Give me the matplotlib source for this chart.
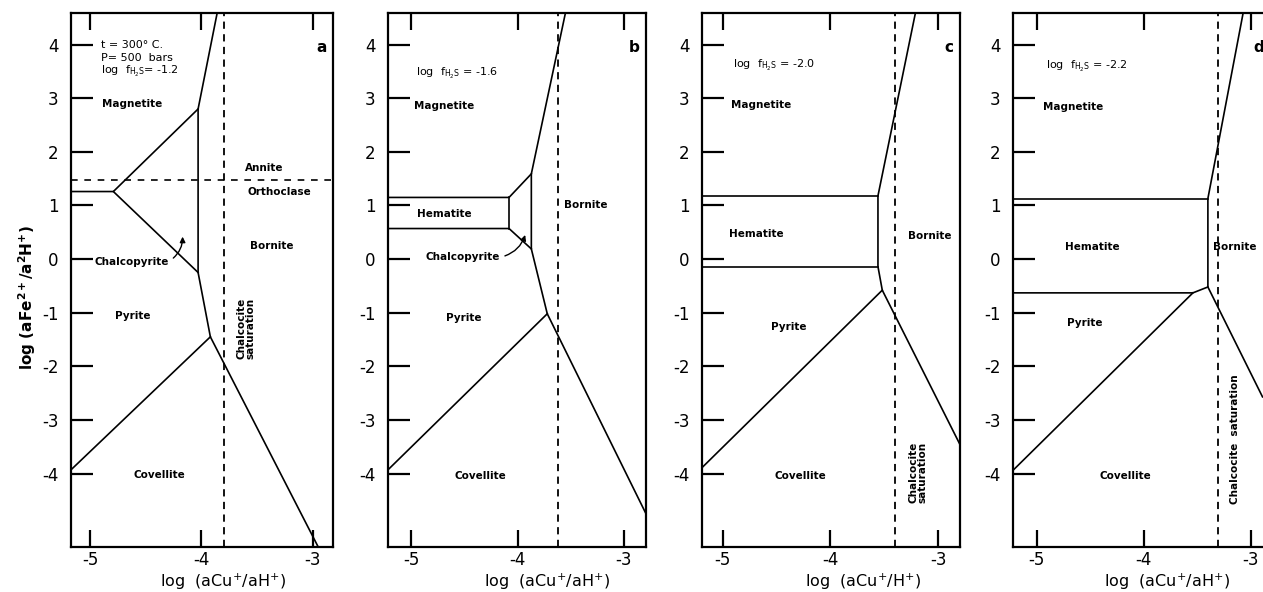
import matplotlib.pyplot as plt

plt.rcParams["font.family"] = "DejaVu Sans"
plt.rcParams["axes.unicode_minus"] = False
plt.rcParams["mathtext.default"] = "regular"

XTICKS = [-5, -4, -3]
YTICKS = [4, 3, 2, 1, 0, -1, -2, -3, -4]
YLIM = (-5.37, 4.59)

# panel a, log fH2S = -1.2
A_XLIM = (-5.17, -2.82)
A_LINES = [
    [(-3.86, 4.58), (-4.03, 2.80), (-4.03, -0.25), (-3.92, -1.45), (-2.95, -5.38)],
    [(-5.17, 1.26), (-4.79, 1.26), (-4.03, 2.80)],
    [(-4.79, 1.26), (-4.03, -0.25)],
    [(-5.17, -3.93), (-3.92, -1.45)],
]
A_CHALCOCITE = -3.80
A_ANNITE = 1.48
A_LABELS = [
    ("Magnetite", -4.62, 2.90),
    ("Annite", -3.44, 1.69),
    ("Orthoclase", -3.30, 1.26),
    ("Bornite", -3.37, 0.25),
    ("Pyrite", -4.62, -1.07),
    ("Covellite", -4.38, -4.02),
]
A_NOTES = [
    ("t = 300° C.", -4.90, 3.94),
    ("P= 500  bars", -4.90, 3.70),
    ("log  f$_{H_2S}$= -1.2", -4.90, 3.46),
]
A_ARROW = ((-4.63, -0.05), (-4.17, 0.47))
A_SAT = ("Chalcocite\nsaturation", -3.60, -1.30)

# panel b, log fH2S = -1.6
B_XLIM = (-5.22, -2.79)
B_LINES = [
    [(-3.55, 4.58), (-3.87, 1.59), (-3.87, 0.19), (-3.72, -1.02), (-2.79, -4.75)],
    [(-5.22, 1.15), (-4.08, 1.15), (-3.87, 1.59)],
    [(-5.22, 0.57), (-4.08, 0.57), (-3.87, 0.19)],
    [(-4.08, 1.15), (-4.08, 0.57)],
    [(-5.22, -3.93), (-3.72, -1.02)],
]
B_CHALCOCITE = -3.62
B_LABELS = [
    ("Magnetite", -4.69, 2.86),
    ("Hematite", -4.69, 0.85),
    ("Bornite", -3.36, 1.01),
    ("Pyrite", -4.51, -1.09),
    ("Covellite", -4.35, -4.04),
]
B_NOTES = [("log  f$_{H_2S}$ = -1.6", -4.96, 3.42)]
B_ARROW = ((-4.52, 0.03), (-3.92, 0.50))

# panel c, log fH2S = -2.0
C_XLIM = (-5.19, -2.80)
C_LINES = [
    [(-3.21, 4.62), (-3.56, 1.18), (-3.56, -0.14), (-3.52, -0.58), (-2.80, -3.46)],
    [(-5.19, 1.18), (-3.56, 1.18)],
    [(-5.19, -0.14), (-3.56, -0.14)],
    [(-5.19, -3.89), (-3.52, -0.58)],
]
C_CHALCOCITE = -3.40
C_LABELS = [
    ("Magnetite", -4.64, 2.88),
    ("Hematite", -4.69, 0.47),
    ("Bornite", -3.08, 0.43),
    ("Pyrite", -4.39, -1.26),
    ("Covellite", -4.28, -4.04),
]
C_NOTES = [("log  f$_{H_2S}$ = -2.0", -4.90, 3.57)]
C_SAT = ("Chalcocite\nsaturation", -3.19, -3.98)

# panel d, log fH2S = -2.2
D_XLIM = (-5.22, -2.82)
D_LINES = [
    [(-3.07, 4.60), (-3.40, 1.13), (-3.40, -0.52), (-2.89, -2.57)],
    [(-5.22, 1.13), (-3.40, 1.13)],
    [(-5.22, -0.63), (-3.54, -0.63), (-3.40, -0.52)],
    [(-5.22, -3.94), (-3.54, -0.63)],
]
D_CHALCOCITE = -3.31
D_LABELS = [
    ("Magnetite", -4.66, 2.83),
    ("Hematite", -4.48, 0.22),
    ("Bornite", -3.15, 0.22),
    ("Pyrite", -4.55, -1.20),
    ("Covellite", -4.17, -4.04),
]
D_NOTES = [("log  f$_{H_2S}$ = -2.2", -4.91, 3.55)]
D_SAT = ("Chalcocite  saturation", -3.15, -3.35)

XLABEL = "log  (aCu$^{+}$/aH$^{+}$)"
XLABEL_C = "log  (aCu$^{+}$/H$^{+}$)"
YLABEL = "log (aFe$^{2+}$/a$^{2}$H$^{+}$)"

W, H = 1263, 592
fig = plt.figure(figsize=(W / 100, H / 100), dpi=100, facecolor="white")


def panel(left_px, width_px, xlim, lines, sat_x, labels, notes, letter, xlabel, label_x):
    ax = fig.add_axes([left_px / W, 45 / H, width_px / W, 534 / H])
    ax.set_xlim(*xlim)
    ax.set_ylim(*YLIM)
    for sp in ax.spines.values():
        sp.set_linewidth(1.6)
    ax.set_xticks(XTICKS)
    ax.set_yticks(YTICKS)
    ax.set_xticklabels([str(v) for v in XTICKS])
    ax.set_yticklabels([str(v) for v in YTICKS])
    ax.tick_params(axis="x", direction="in", top=True, bottom=True, length=12,
                   width=1.6, labelsize=12, pad=3)
    ax.tick_params(axis="y", direction="in", left=True, right=False, length=16,
                   width=1.6, labelsize=12, pad=9)
    for pts in lines:
        ax.plot([p[0] for p in pts], [p[1] for p in pts], color="black", lw=1.2)
    ax.axvline(sat_x, color="black", lw=1.3, ls=(0, (4, 3)))
    for txt, x, y in labels:
        ax.text(x, y, txt, ha="center", va="center", fontsize=7.5, fontweight="bold")
    for txt, x, y in notes:
        ax.text(x, y, txt, ha="left", va="baseline", fontsize=8)
    ax.text(0.955, 0.935, letter, transform=ax.transAxes, ha="center", va="center",
            fontsize=11, fontweight="bold")
    ax.text(label_x, -35 / 534, xlabel, transform=ax.transAxes, ha="center",
            va="center", fontsize=11.5)
    return ax


ax_a = panel(71, 262, A_XLIM, A_LINES, A_CHALCOCITE, A_LABELS, A_NOTES, "a", XLABEL, 0.58)
ax_a.axhline(A_ANNITE, color="black", lw=1.2, ls=(0, (4, 4)))
ax_a.annotate("Chalcopyrite", xy=A_ARROW[1], xytext=A_ARROW[0], ha="center", va="center",
              fontsize=7.5, fontweight="bold",
              arrowprops=dict(arrowstyle="-|>", color="black", lw=1.0, mutation_scale=8,
                              relpos=(1, 0.5), connectionstyle="arc3,rad=0.3"))
ax_a.text(A_SAT[1], A_SAT[2], A_SAT[0], rotation=90, ha="center", va="center",
          fontsize=7.5, fontweight="bold", linespacing=0.9)

ax_b = panel(388, 258, B_XLIM, B_LINES, B_CHALCOCITE, B_LABELS, B_NOTES, "b", XLABEL, 0.615)
ax_b.annotate("Chalcopyrite", xy=B_ARROW[1], xytext=B_ARROW[0], ha="center", va="center",
              fontsize=7.5, fontweight="bold",
              arrowprops=dict(arrowstyle="-|>", color="black", lw=1.0, mutation_scale=8,
                              relpos=(1, 0.5), connectionstyle="arc3,rad=0.3"))

ax_c = panel(702, 258, C_XLIM, C_LINES, C_CHALCOCITE, C_LABELS, C_NOTES, "c", XLABEL_C, 0.625)
ax_c.text(C_SAT[1], C_SAT[2], C_SAT[0], rotation=90, ha="center", va="center",
          fontsize=7.5, fontweight="bold", linespacing=0.9)

ax_d = panel(1013, 257, D_XLIM, D_LINES, D_CHALCOCITE, D_LABELS, D_NOTES, "d", XLABEL, 0.60)
ax_d.text(D_SAT[1], D_SAT[2], D_SAT[0], rotation=90, ha="center", va="center",
          fontsize=7.5, fontweight="bold")

fig.text(27 / W, 1 - 298 / H, YLABEL, rotation=90, ha="center", va="center",
         fontsize=11, fontweight="bold")

fig.savefig("out.png", dpi=100, facecolor="white")
